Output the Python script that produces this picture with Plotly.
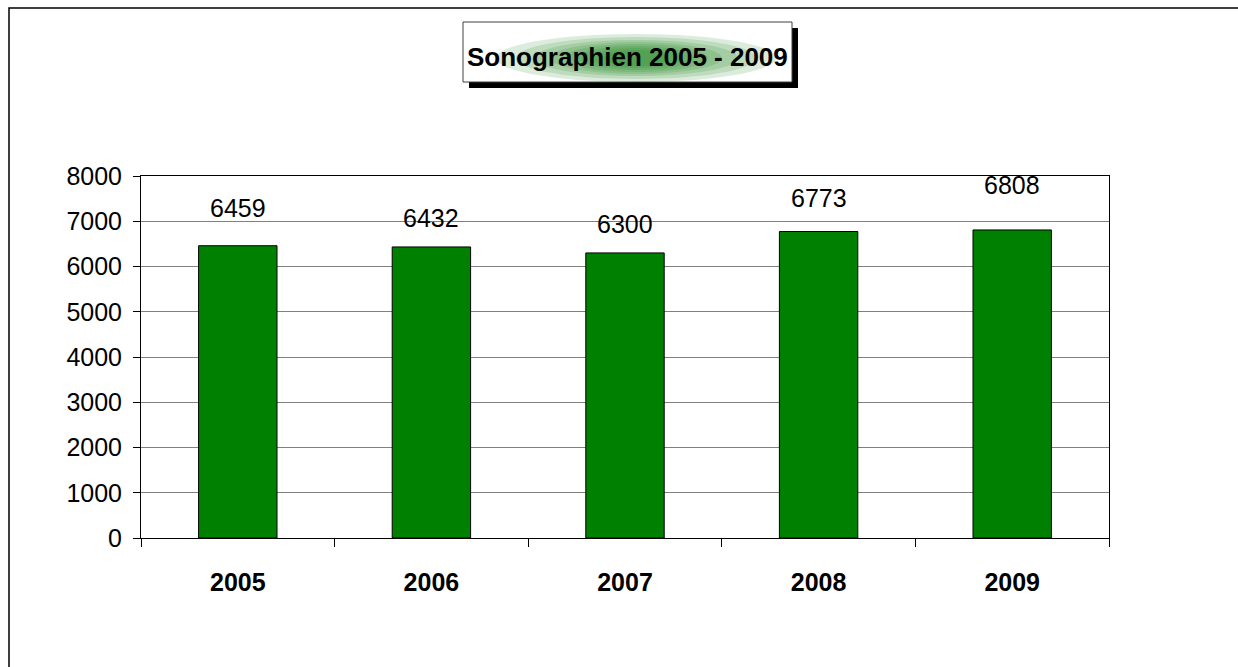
import plotly.graph_objects as go

years = ["2005", "2006", "2007", "2008", "2009"]
values = [6459, 6432, 6300, 6773, 6808]
label_shift = [36, 27, 27, 32, 43]  # pixel offsets of value labels above bars
title_text = "Sonographien 2005 - 2009"
y_ticks = [0, 1000, 2000, 3000, 4000, 5000, 6000, 7000, 8000]

W, H = 1238, 667
L, R, T, B = 141, 1109, 176, 538

def px(x):
    return (x - L) / (R - L)

def py(y):
    return (B - y) / (B - T)

fig = go.Figure()
fig.add_trace(go.Bar(
    x=years, y=values,
    marker=dict(color="#008000", line=dict(color="#000000", width=1)),
    width=0.405, hoverinfo="skip",
))

annotations = []
for i, (v, s) in enumerate(zip(values, label_shift)):
    annotations.append(dict(
        x=i, y=v, xref="x", yref="y", text=str(v), showarrow=False,
        yanchor="bottom", yshift=s - 14,
        font=dict(family="Liberation Sans, Arial", size=25, color="#000000"),
    ))

shapes = []
# outer chart border
shapes.append(dict(type="rect", xref="paper", yref="paper",
                   x0=px(9), x1=px(1300), y0=py(8), y1=py(720),
                   line=dict(color="#000000", width=1.5), fillcolor="rgba(0,0,0,0)", layer="below"))
# title shadow
shapes.append(dict(type="rect", xref="paper", yref="paper",
                   x0=px(469), x1=px(798), y0=py(28), y1=py(88),
                   line=dict(width=0), fillcolor="#000000"))
# title box
shapes.append(dict(type="rect", xref="paper", yref="paper",
                   x0=px(463), x1=px(792), y0=py(22), y1=py(82),
                   line=dict(color="#404040", width=1), fillcolor="#ffffff"))
# glow behind title text
cx, cy = 636, 58
for hw, hh in [(140, 24), (120, 21), (102, 18), (86, 16), (72, 14), (58, 12), (45, 10), (32, 8)]:
    shapes.append(dict(type="circle", xref="paper", yref="paper",
                       x0=px(cx - hw), x1=px(cx + hw), y0=py(cy - hh), y1=py(cy + hh),
                       line=dict(width=0), fillcolor="rgba(20,125,20,0.15)"))

annotations.append(dict(
    x=px(627), y=py(57), xref="paper", yref="paper", text="<b>" + title_text + "</b>",
    showarrow=False, xanchor="center", yanchor="middle",
    font=dict(family="Liberation Sans Narrow, Arial Narrow, Liberation Sans", size=26, color="#000000"),
))

fig.update_layout(
    width=W, height=H,
    margin=dict(l=L, r=W - R, t=T, b=H - B, pad=0),
    paper_bgcolor="#ffffff", plot_bgcolor="#ffffff",
    showlegend=False,
    shapes=shapes, annotations=annotations,
    xaxis=dict(
        type="category", tickson="boundaries", ticks="outside", ticklen=8, tickcolor="#000000",
        showline=True, linecolor="#000000", linewidth=1, mirror=True, showgrid=False,
        tickfont=dict(family="Liberation Sans, Arial", size=25, color="#000000", weight="bold"),
        ticklabelstandoff=22, range=[-0.5, 4.5],
    ),
    yaxis=dict(
        range=[0, 8000], tickvals=y_ticks, ticks="outside", ticklen=7, tickcolor="#000000",
        showline=True, linecolor="#000000", linewidth=1, mirror=True,
        showgrid=True, gridcolor="#808080", gridwidth=1, zeroline=False,
        tickfont=dict(family="Liberation Sans, Arial", size=25, color="#000000"),
        ticklabelstandoff=6,
    ),
)

fig.write_html("out.html", config={"displayModeBar": False},
               post_script="document.body.style.margin='0';document.body.style.overflow='hidden';")
